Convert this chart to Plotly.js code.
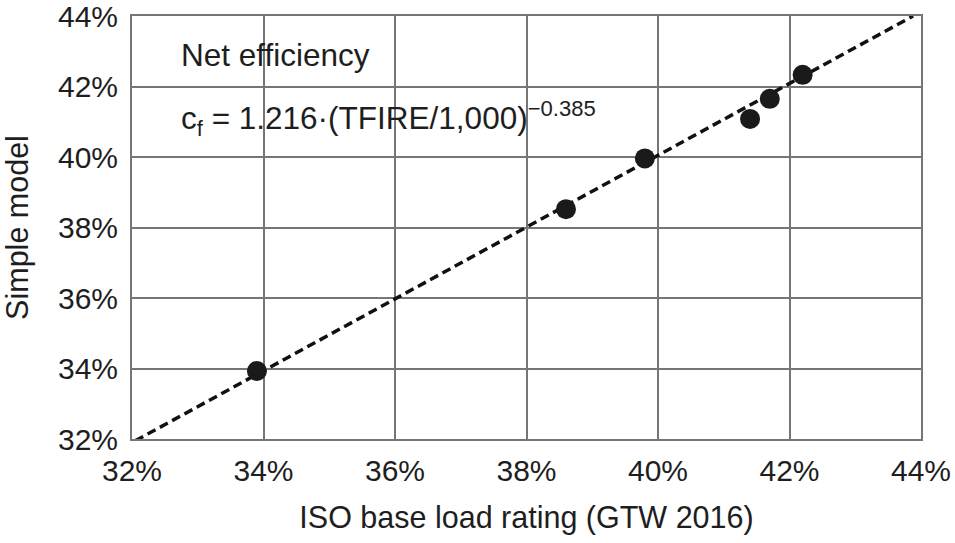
<!DOCTYPE html>
<html>
<head>
<meta charset="utf-8">
<script src="https://cdn.plot.ly/plotly-3.0.1.min.js"></script>
<style>html,body{margin:0;padding:0;background:#fff;}#chart{width:955px;height:543px;}</style>
</head>
<body>
<div id="chart"></div>
<script>
// ISO base load rating (GTW 2016), %
const isoRating = [33.9, 38.6, 39.8, 41.4, 41.7, 42.2];
// Simple model net efficiency, %
const simpleModel = [33.93, 38.52, 39.96, 41.08, 41.65, 42.33];
// Dashed reference (parity) line endpoints
const lineX = [32.05, 43.88];
const lineY = [31.95, 44.0];
const tickVals = [32, 34, 36, 38, 40, 42, 44];
const tickText = ['32%', '34%', '36%', '38%', '40%', '42%', '44%'];

const font = 'Liberation Sans, Arial, sans-serif';
const textColor = '#1e1e1e';
const gridColor = '#767676';

const traces = [
  {
    x: lineX, y: lineY, type: 'scatter', mode: 'lines',
    line: {color: '#111', width: 3.5, dash: '9px,5px'},
    hoverinfo: 'skip', showlegend: false
  },
  {
    x: isoRating, y: simpleModel, type: 'scatter', mode: 'markers',
    marker: {color: '#1a1a1a', size: 20},
    cliponaxis: false, showlegend: false
  }
];

const axisCommon = {
  range: [32, 44],
  tickmode: 'array', tickvals: tickVals, ticktext: tickText,
  showgrid: true, gridcolor: gridColor, gridwidth: 2,
  showline: true, linecolor: gridColor, linewidth: 2, mirror: true,
  zeroline: false,
  ticks: 'outside', ticklen: 4, tickcolor: 'rgba(0,0,0,0)',
  tickfont: {family: font, size: 30, color: textColor},
  ticklabeloverflow: 'allow',
  fixedrange: true
};

const layout = {
  width: 955, height: 543,
  margin: {l: 132, r: 34, t: 16, b: 104},
  paper_bgcolor: '#fff', plot_bgcolor: '#fff',
  xaxis: Object.assign({}, axisCommon, {
    title: {text: 'ISO base load rating (GTW 2016)', font: {family: font, size: 30.5, color: textColor}, standoff: 21}
  }),
  yaxis: Object.assign({}, axisCommon, {
    ticklen: 6,
    title: {text: 'Simple model', font: {family: font, size: 30.5, color: textColor}, standoff: 20}
  }),
  annotations: [
    {
      xref: 'paper', yref: 'paper', x: 0.06, y: 0.908,
      xanchor: 'left', yanchor: 'middle', showarrow: false,
      text: 'Net efficiency',
      font: {family: font, size: 31.5, color: textColor}
    },
    {
      xref: 'paper', yref: 'paper', x: 0.06, y: 0.757,
      xanchor: 'left', yanchor: 'middle', showarrow: false,
      text: 'c<sub>f</sub> = 1.216·(TFIRE/1,000)<sup>−0.385</sup>',
      font: {family: font, size: 31.5, color: textColor}
    }
  ]
};

Plotly.newPlot('chart', traces, layout, {displayModeBar: false, staticPlot: true});
</script>
</body>
</html>
